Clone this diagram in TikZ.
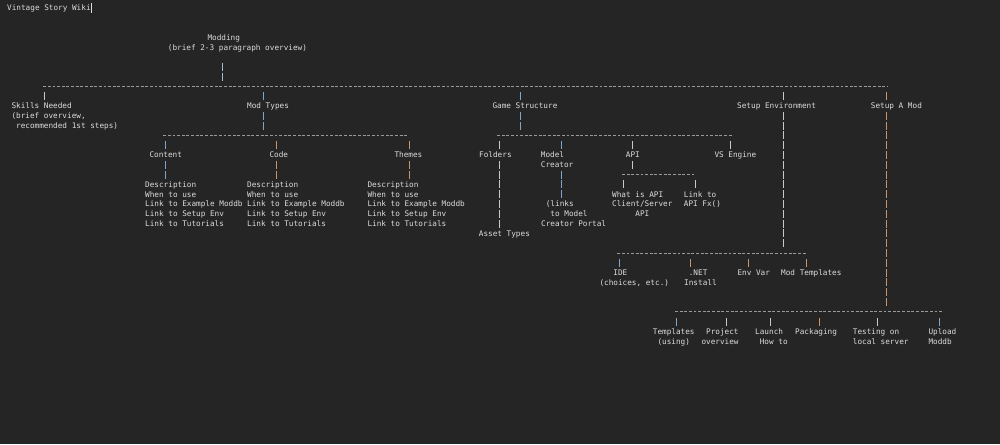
\documentclass[tikz,border=0pt]{standalone}
\usepackage{fontspec}
\setmonofont{DejaVu Sans Mono}

\definecolor{bg}{HTML}{252526}
\definecolor{fg}{HTML}{DCDCDC}
\definecolor{pw}{HTML}{C8C8C8}
\definecolor{pl}{HTML}{A8BCD0}
\definecolor{pb}{HTML}{7FA6C8}
\definecolor{po}{HTML}{C8946A}
\definecolor{dashgrey}{HTML}{9A9A9A}

\newlength{\chw}
\setlength{\chw}{4.635pt}
\newcommand{\ind}[1]{\hspace*{#1\chw}}
% several lines, baseline on the first one
\newcommand{\lines}[1]{\begin{tabular}[t]{@{}l@{}}#1\end{tabular}}
% one run of | characters, rows #2 to #3
\newcommand{\piperun}[4]{\draw[pipe,#4] (#1,#2-0.41) -- (#1,#3+0.41);}

\tikzset{
  txt/.style={anchor=base west, inner sep=0pt, text=fg,
    font=\ttfamily\fontsize{7.7}{9.8}\selectfont},
  pipe/.style={line width=0.9pt, dash pattern=on 8pt off 1.8pt},
  bus/.style={draw=dashgrey, line width=0.7pt, dash pattern=on 2.9pt off 1.735pt},
}

\begin{document}
\begin{tikzpicture}[x=1pt, y=-9.8pt]
\fill[bg] (0,-0.8163) rectangle (1000,44.49);

\node[txt] (wiki) at (7,0.3) {Vintage Story Wiki};
\draw[fg, line width=0.8pt] (91.5,-0.5) -- (91.5,0.5);

\node[txt] (modding) at (207.3,3.3) {Modding};
\node[txt] (overview) at (167.7,4.3) {(brief 2-3 paragraph overview)};
\piperun{222.7}{6}{7}{pl}

% top level
\draw[bus] (43.3,8) -- (887,8);
\piperun{44.7}{9}{9}{pw}
\piperun{263}{9}{9}{pb}
\piperun{263}{11}{12}{pb}
\piperun{520.7}{9}{9}{pb}
\piperun{520.7}{11}{12}{pb}
\piperun{783.3}{9}{9}{pw}
\piperun{783.3}{11}{24}{pw}
\piperun{886}{9}{9}{po}
\piperun{886}{11}{30}{po}

\node[txt] (skills) at (11.3,10.3) {\lines{Skills Needed\\(brief overview,\\\ind{1}recommended 1st steps)}};
\node[txt] (modtypes) at (247,10.3) {Mod Types};
\node[txt] (gamestruct) at (492.3,10.3) {Game Structure};
\node[txt] (setupenv) at (737,10.3) {Setup Environment};
\node[txt] (setupmod) at (870.7,10.3) {Setup A Mod};

% mod types
\draw[bus] (163.3,13) -- (406.7,13);
\piperun{165}{14}{14}{pb}
\piperun{165}{16}{17}{pb}
\piperun{276}{14}{14}{po}
\piperun{276}{16}{17}{po}
\piperun{409.7}{14}{14}{po}
\piperun{409.7}{16}{17}{po}

\node[txt] (content) at (149.3,15.3) {Content};
\node[txt] (code) at (269.3,15.3) {Code};
\node[txt] (themes) at (394.3,15.3) {Themes};

\node[txt] (content-d) at (145,18.3) {\lines{Description\\When to use\\Link to Example Moddb\\Link to Setup Env\\Link to Tutorials}};
\node[txt] (code-d) at (247,18.3) {\lines{Description\\When to use\\Link to Example Moddb\\Link to Setup Env\\Link to Tutorials}};
\node[txt] (themes-d) at (367.3,18.3) {\lines{Description\\When to use\\Link to Example Moddb\\Link to Setup Env\\Link to Tutorials}};

% game structure
\draw[bus] (497,13) -- (732,13);
\piperun{499}{14}{14}{pw}
\piperun{499}{16}{22}{pw}
\piperun{561}{14}{14}{pb}
\piperun{561}{17}{19}{pb}
\piperun{632}{14}{14}{pw}
\piperun{632}{16}{16}{pw}
\piperun{730}{14}{14}{pw}

\node[txt] (folders) at (479,15.3) {Folders};
\node[txt] (modelcr) at (540.7,15.3) {\lines{Model\\Creator}};
\node[txt] (api) at (625.7,15.3) {API};
\node[txt] (vsengine) at (714.3,15.3) {VS Engine};

\draw[bus] (622,17) -- (696,17);
\piperun{623.3}{18}{18}{pw}
\piperun{695}{18}{18}{pw}
\node[txt] (whatapi) at (612,19.3) {\lines{What is API\\Client/Server\\\ind{5}API}};
\node[txt] (apifx) at (683.7,19.3) {\lines{Link to\\API Fx()}};
\node[txt] (portal) at (541,20.3) {\lines{\ind{1}(links\\\ind{2}to Model\\Creator Portal}};
\node[txt] (assets) at (478.7,23.3) {Asset Types};

% setup environment
\draw[bus] (617.3,25) -- (807.3,25);
\piperun{619}{26}{26}{pb}
\piperun{690}{26}{26}{po}
\piperun{748.3}{26}{26}{po}
\piperun{806}{26}{26}{po}
\node[txt] (ide) at (599.3,27.3) {\lines{\ind{3}IDE\\(choices, etc.)}};
\node[txt] (dotnet) at (684,27.3) {\lines{\ind{1}.NET\\Install}};
\node[txt] (envvar) at (737.3,27.3) {Env Var};
\node[txt] (modtempl) at (781,27.3) {Mod Templates};

% setup a mod
\draw[bus] (675,31) -- (941.7,31);
\piperun{676.7}{32}{32}{pb}
\piperun{726}{32}{32}{pw}
\piperun{770}{32}{32}{pw}
\piperun{819.3}{32}{32}{po}
\piperun{877.3}{32}{32}{pw}
\piperun{939.3}{32}{32}{pb}
\node[txt] (templates) at (652.7,33.3) {\lines{Templates\\\ind{1}(using)}};
\node[txt] (project) at (701.3,33.3) {\lines{\ind{1}Project\\overview}};
\node[txt] (launch) at (755,33.3) {\lines{Launch\\\ind{1}How to}};
\node[txt] (packaging) at (795,33.3) {Packaging};
\node[txt] (testing) at (852.7,33.3) {\lines{Testing on\\local server}};
\node[txt] (upload) at (928.3,33.3) {\lines{Upload\\Moddb}};
\end{tikzpicture}
\end{document}
